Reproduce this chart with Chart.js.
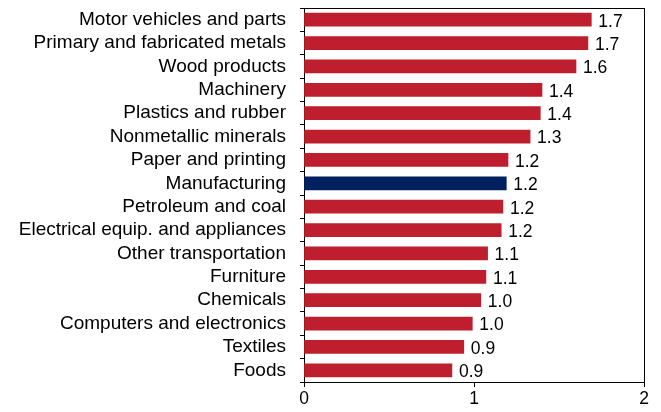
<!DOCTYPE html>
<html>
<head>
<meta charset="utf-8">
<script src="https://cdn.jsdelivr.net/npm/chart.js@4"></script>
<style>
  html, body { margin: 0; padding: 0; background: #fff; }
  #wrap { width: 661px; height: 412px; }
</style>
</head>
<body>
<div id="wrap"><canvas id="chart" width="661" height="412"></canvas></div>
<script>
// industries, top to bottom
const industries = [
  'Motor vehicles and parts', 'Primary and fabricated metals', 'Wood products',
  'Machinery', 'Plastics and rubber', 'Nonmetallic minerals', 'Paper and printing',
  'Manufacturing', 'Petroleum and coal', 'Electrical equip. and appliances',
  'Other transportation', 'Furniture', 'Chemicals', 'Computers and electronics',
  'Textiles', 'Foods'
];
const ratios = [1.69, 1.67, 1.60, 1.40, 1.39, 1.33, 1.20, 1.19, 1.17, 1.16,
  1.08, 1.07, 1.04, 0.99, 0.94, 0.87];
const xTicks = [0, 1, 2];

const RED = '#BE1E2D', NAVY = '#002060';
const FAMILY = '"Liberation Sans", Arial, sans-serif';
const CAT_FONT = { family: FAMILY, size: 19 };
const VAL_FONT = { family: FAMILY, size: 17.5 };

// value labels beside the bars
const valueLabels = {
  id: 'valueLabels',
  afterDatasetsDraw(chart) {
    const ctx = chart.ctx;
    const x = chart.scales.x, y = chart.scales.y;
    ctx.save();
    ctx.fillStyle = '#000';
    ctx.font = VAL_FONT.size + 'px ' + FAMILY;
    ctx.textAlign = 'left';
    ctx.textBaseline = 'middle';
    ratios.forEach((v, i) => {
      ctx.fillText(v.toFixed(1), x.getPixelForValue(v) + 7, y.getPixelForValue(i) + 2);
    });
    ctx.restore();
  }
};

new Chart(document.getElementById('chart'), {
  type: 'bar',
  data: {
    labels: industries,
    datasets: [{
      data: ratios,
      backgroundColor: industries.map(n => n === 'Manufacturing' ? NAVY : RED),
      borderWidth: 0,
      barThickness: 13
    }]
  },
  options: {
    indexAxis: 'y',
    responsive: false,
    animation: false,
    layout: { padding: { top: 8, right: 17, left: 0, bottom: 0 } },
    plugins: { legend: { display: false }, tooltip: { enabled: false } },
    scales: {
      x: {
        min: 0, max: 2,
        afterBuildTicks: s => { s.ticks = xTicks.map(v => ({ value: v })); },
        afterFit: s => { s.height = 30; s.paddingLeft = 0; s.paddingRight = 0; },
        // only the line at the right edge is drawn across the plot
        grid: {
          drawOnChartArea: true, tickLength: 5, tickColor: '#000',
          color: c => (c.tick && c.tick.value === 2) ? '#000' : 'rgba(0,0,0,0)'
        },
        border: { color: '#000' },
        ticks: { color: '#000', font: VAL_FONT, padding: 2 }
      },
      y: {
        afterFit: s => { s.width = 304; s.paddingTop = 0; s.paddingBottom = 0; },
        // first category border closes the box on top
        grid: {
          drawOnChartArea: true, tickLength: 4, tickColor: '#000', offset: true,
          color: c => c.index === 0 ? '#000' : 'rgba(0,0,0,0)'
        },
        border: { color: '#000' },
        ticks: { color: '#000', font: CAT_FONT, padding: 14, autoSkip: false }
      }
    }
  },
  plugins: [valueLabels]
});
</script>
</body>
</html>
